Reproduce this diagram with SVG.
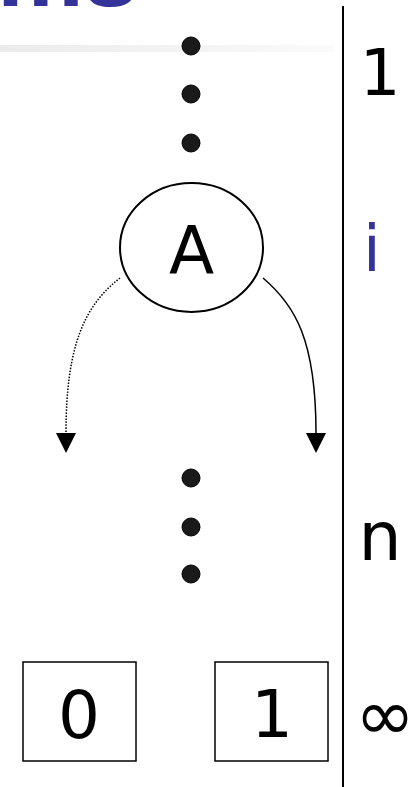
<svg xmlns="http://www.w3.org/2000/svg" width="414" height="787" viewBox="0 0 414 787">
<defs>
<linearGradient id="bar" x1="0" y1="0" x2="1" y2="0">
<stop offset="0" stop-color="#ebebeb"/>
<stop offset="1" stop-color="#fafafa"/>
</linearGradient>
<marker id="arr" markerWidth="20" markerHeight="20" refX="0" refY="10" orient="auto" markerUnits="userSpaceOnUse" viewBox="0 0 20 20">
<path d="M0,0 L20,10 L0,20 Z" fill="#000"/>
</marker>
<style>
.lbl{font-family:"DejaVu Sans",Verdana,sans-serif;font-size:64px;fill:#000}
.dot{fill:#1a1a1a;stroke:#000;stroke-width:1}
.box{fill:#fff;stroke:#000;stroke-width:1.5}
.edge{fill:none;stroke:#000;stroke-width:1.5}
</style>
</defs>
<rect width="414" height="787" fill="#fff"/>
<g id="title">
<rect x="0" y="45" width="334" height="7" fill="url(#bar)"/>
<text x="-3" y="6" font-family="Liberation Sans,Arial,sans-serif" font-weight="bold" font-size="90" fill="#333399" textLength="141" lengthAdjust="spacingAndGlyphs">ms</text>
</g>
<g id="axis">
<line x1="343" y1="6" x2="343" y2="787" stroke="#000" stroke-width="2"/>
<text class="lbl" x="380" y="95" text-anchor="middle">1</text>
<text class="lbl" x="372" y="271" text-anchor="middle" style="fill:#333399">i</text>
<text class="lbl" x="380" y="560" text-anchor="middle" style="font-size:68px">n</text>
<text class="lbl" x="385" y="740" text-anchor="middle" style="font-size:72px">∞</text>
</g>
<g id="dots-top">
<circle class="dot" cx="191" cy="46" r="9"/>
<circle class="dot" cx="191" cy="94" r="9"/>
<circle class="dot" cx="191" cy="143" r="9"/>
</g>
<g id="node-A">
<ellipse cx="191.5" cy="247.5" rx="71.5" ry="64.5" fill="#fff" stroke="#000" stroke-width="2"/>
<text class="lbl" x="191.5" y="273" text-anchor="middle" style="font-size:66px">A</text>
</g>
<g id="dots-bottom">
<circle class="dot" cx="191" cy="478" r="9"/>
<circle class="dot" cx="191" cy="527" r="9"/>
<circle class="dot" cx="191" cy="574" r="9"/>
</g>
<g id="node-0">
<rect class="box" x="23" y="662" width="113" height="99"/>
<text class="lbl" x="79" y="738" text-anchor="middle" style="font-size:66px">0</text>
</g>
<g id="node-1">
<rect class="box" x="215" y="662" width="113" height="99"/>
<text class="lbl" x="272" y="737" text-anchor="middle" style="font-size:66px">1</text>
</g>
<g id="connectors">
<path class="edge" d="M120,278 C85,305 66,345 66,433" stroke-dasharray="1.5 1.5" marker-end="url(#arr)"/>
<path class="edge" d="M263,278 C295,305 316,340 316,433" marker-end="url(#arr)"/>
</g>
</svg>
